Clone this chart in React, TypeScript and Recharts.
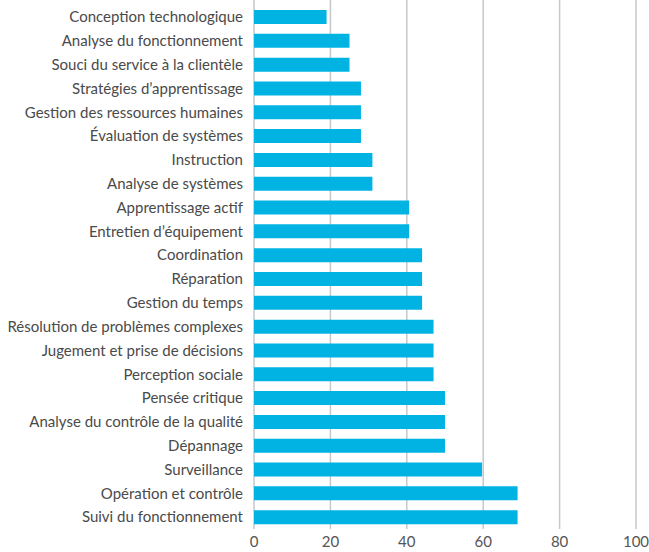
import { BarChart, Bar, XAxis, YAxis, CartesianGrid } from "recharts";

const skills = [
  "Conception technologique",
  "Analyse du fonctionnement",
  "Souci du service à la clientèle",
  "Stratégies d’apprentissage",
  "Gestion des ressources humaines",
  "Évaluation de systèmes",
  "Instruction",
  "Analyse de systèmes",
  "Apprentissage actif",
  "Entretien d’équipement",
  "Coordination",
  "Réparation",
  "Gestion du temps",
  "Résolution de problèmes complexes",
  "Jugement et prise de décisions",
  "Perception sociale",
  "Pensée critique",
  "Analyse du contrôle de la qualité",
  "Dépannage",
  "Surveillance",
  "Opération et contrôle",
  "Suivi du fonctionnement",
];

const scores = [
  19, 25, 25, 28, 28, 28, 31, 31, 40.6, 40.6, 44, 44, 44, 47, 47, 47, 50, 50,
  50, 59.7, 69, 69,
];

const xTicks = [0, 20, 40, 60, 80, 100];

const data = skills.map((skill, i) => ({ skill, score: scores[i] }));

const FONT = "Lato, 'Open Sans', sans-serif";

export default function App() {
  return (
    <div style={{ position: "absolute", left: 0, top: 0, background: "#fff" }}>
      <BarChart
        width={649}
        height={552}
        data={data}
        layout="vertical"
        margin={{ top: 0, right: 13, bottom: 0, left: 0 }}
      >
        <CartesianGrid horizontal={false} stroke="#c5c9cd" strokeWidth={1.5} />
        <XAxis
          type="number"
          domain={[0, 100]}
          ticks={xTicks}
          axisLine={false}
          tickLine={false}
          tickSize={0}
          tickMargin={7}
          height={23}
          tick={{ fontSize: 15, fill: "#555", fontFamily: FONT }}
        />
        <YAxis
          type="category"
          dataKey="skill"
          width={254}
          axisLine={false}
          tickLine={false}
          tickSize={0}
          tickMargin={11}
          interval={0}
          padding={{ top: 5, bottom: 0 }}
          tick={{ fontSize: 15, fill: "#4a4a4a", fontFamily: FONT }}
        />
        <Bar dataKey="score" fill="#00b3e3" barSize={14} isAnimationActive={false} />
      </BarChart>
    </div>
  );
}
